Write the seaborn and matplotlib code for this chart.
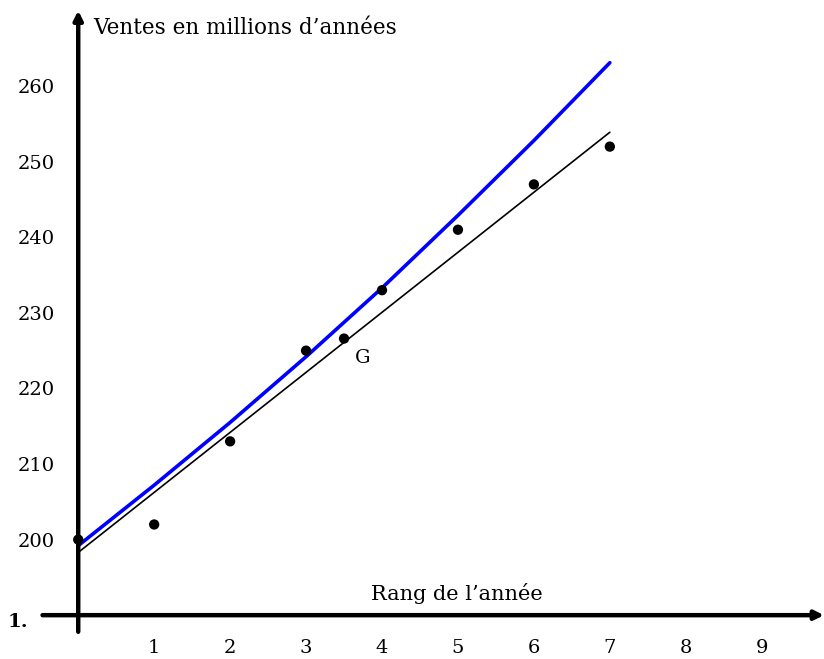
import matplotlib
matplotlib.use("Agg")
import matplotlib.pyplot as plt
import pandas as pd
import seaborn as sns

# data
rang = [0, 1, 2, 3, 4, 5, 6, 7]
ventes = [200, 202, 213, 225, 233, 241, 247, 252]
g_point = (3.5, 226.6)

# blue model curve
courbe_x = [0, 1, 2, 3, 4, 5, 6, 7]
courbe_y = [199.2, 207.2, 215.5, 224.2, 233.3, 242.9, 252.8, 263.1]

# black adjustment line
droite_x = [0, 7]
droite_y = [198.3, 253.9]

x_ticks = [1, 2, 3, 4, 5, 6, 7, 8, 9]
y_ticks = [200, 210, 220, 230, 240, 250, 260]

sns.set_theme(style="white")
plt.rcParams["font.family"] = ["DejaVu Serif"]
plt.rcParams["text.color"] = "black"

fig = plt.figure(figsize=(8.24, 6.59), dpi=100)
ax = fig.add_axes([0, 0, 1, 1])
ax.set_xlim(-1.03, 9.82)
ax.set_ylim(184.2, 271.4)

sns.lineplot(x=courbe_x, y=courbe_y, ax=ax, color="#0000ff", linewidth=2.6)
sns.lineplot(x=droite_x, y=droite_y, ax=ax, color="black", linewidth=1.2)
pts = pd.DataFrame({"rang": rang + [g_point[0]], "ventes": ventes + [g_point[1]]})
sns.scatterplot(data=pts, x="rang", y="ventes", ax=ax, color="black", s=55,
                edgecolor="none", zorder=5)

# axes through the origin (0, 190)
for side in ["top", "right", "left", "bottom"]:
    ax.spines[side].set_visible(False)
ax.spines["left"].set_position(("data", 0))
ax.spines["bottom"].set_position(("data", 190))
ax.annotate("", xy=(9.82, 190), xytext=(-0.47, 190),
            arrowprops=dict(arrowstyle="-|>", lw=3.2, color="black",
                            mutation_scale=13, shrinkA=0, shrinkB=0))
ax.annotate("", xy=(0, 270.0), xytext=(0, 187.8),
            arrowprops=dict(arrowstyle="-|>", lw=3.2, color="black",
                            mutation_scale=13, shrinkA=0, shrinkB=0))

ax.set_xticks(x_ticks)
ax.set_yticks(y_ticks)
ax.tick_params(axis="both", direction="inout", length=15, width=0.9,
               color="0.35", labelsize=14, labelcolor="black")
ax.tick_params(axis="x", pad=10)
ax.tick_params(axis="y", pad=9)
ax.set_xlabel("")
ax.set_ylabel("")

ax.text(0.2, 267.7, "Ventes en millions d\u2019ann\u00e9es", fontsize=15.5,
        ha="left", va="center")
ax.text(4.99, 192.9, "Rang de l\u2019ann\u00e9e", fontsize=15,
        ha="center", va="center")
ax.text(-0.79, 189.1, "1.", fontsize=14, fontweight="bold",
        ha="center", va="center")
ax.text(3.75, 224.0, "G", fontsize=14, ha="center", va="center")

fig.savefig("out.png", dpi=100)
